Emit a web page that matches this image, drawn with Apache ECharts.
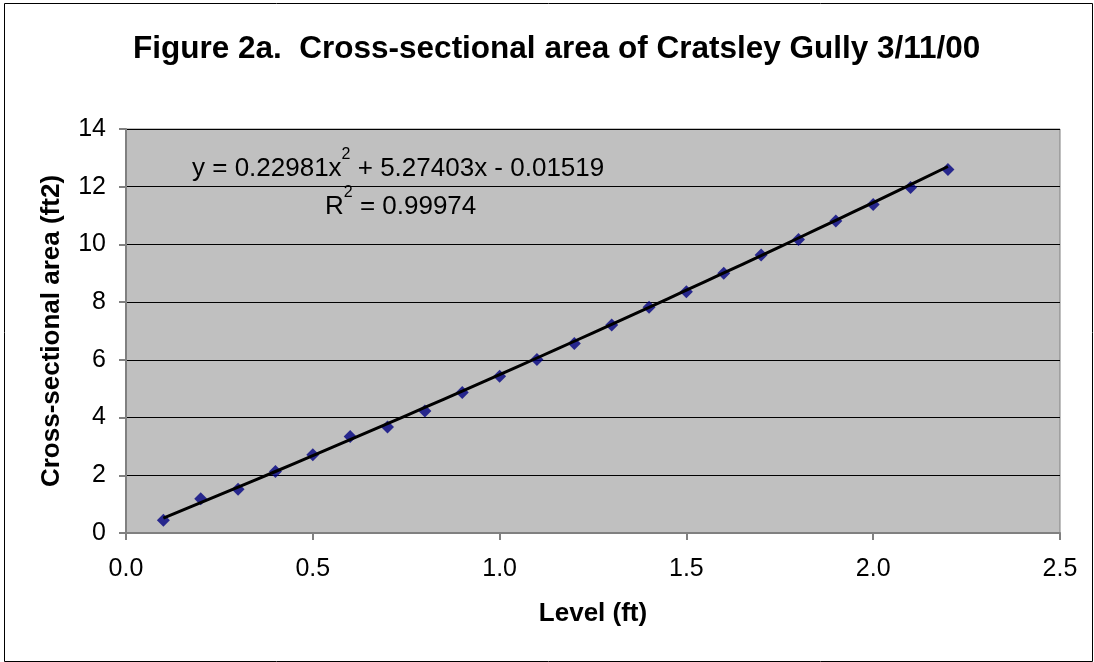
<!DOCTYPE html>
<html>
<head>
<meta charset="utf-8">
<script src="https://cdn.jsdelivr.net/npm/echarts@6/dist/echarts.min.js"></script>
<style>
  html, body { margin: 0; padding: 0; background: #fff; }
  #chart { width: 1094px; height: 662px; }
</style>
</head>
<body>
<div id="chart"></div>
<script>
// data
const levels = [0.1, 0.2, 0.3, 0.4, 0.5, 0.6, 0.7, 0.8, 0.9, 1.0, 1.1,
                1.2, 1.3, 1.4, 1.5, 1.6, 1.7, 1.8, 1.9, 2.0, 2.1, 2.2]
const areas = [0.44, 1.19, 1.52, 2.13, 2.71, 3.34, 3.67, 4.23, 4.87, 5.43, 6.01,
               6.57, 7.21, 7.82, 8.36, 9.00, 9.63, 10.17, 10.81, 11.38, 11.97, 12.60]
// polynomial trendline as printed on the chart: a*x^2 + b*x + c
const trendCoef = [0.22981, 5.27403, -0.01519]
const xTicks = [0.0, 0.5, 1.0, 1.5, 2.0, 2.5]
const yTicks = [0, 2, 4, 6, 8, 10, 12, 14]

const font = '"Liberation Sans", Arial, sans-serif'

const points = levels.map((x, i) => [x, areas[i]])
const trend = levels.map(x => [x, trendCoef[0] * x * x + trendCoef[1] * x + trendCoef[2]])

// rich styles for the equation text, superscript raised with bottom padding
const eqRich = {
  t: {fontFamily: font, fontSize: 26, color: '#000'},
  s: {fontFamily: font, fontSize: 16, color: '#000', padding: [0, 0, 28, 0]}
}

const chart = echarts.init(document.getElementById('chart'))
chart.setOption({
  animation: false,
  backgroundColor: '#fff',
  title: {
    text: 'Figure 2a.  Cross-sectional area of Cratsley Gully 3/11/00',
    left: 128,
    top: 28,
    textStyle: {fontFamily: font, fontSize: 31.5, fontWeight: 'bold', color: '#000'}
  },
  grid: {
    left: 126,
    right: 34,
    top: 129,
    bottom: 129,
    show: true,
    backgroundColor: '#c0c0c0',
    borderColor: '#808080',
    borderWidth: 1
  },
  xAxis: {
    type: 'value',
    min: xTicks[0],
    max: xTicks[xTicks.length - 1],
    interval: 0.5,
    name: 'Level (ft)',
    nameLocation: 'middle',
    nameGap: 68,
    nameTextStyle: {fontFamily: font, fontSize: 26, fontWeight: 'bold', color: '#000'},
    axisLine: {lineStyle: {color: '#808080', width: 2}},
    axisTick: {lineStyle: {color: '#808080', width: 2}, length: 7},
    axisLabel: {
      fontFamily: font, fontSize: 25, color: '#000', margin: 24,
      formatter: v => v.toFixed(1)
    },
    splitLine: {show: false}
  },
  yAxis: {
    type: 'value',
    min: yTicks[0],
    max: yTicks[yTicks.length - 1],
    interval: 2,
    name: 'Cross-sectional area (ft2)',
    nameLocation: 'middle',
    nameGap: 61,
    nameTextStyle: {fontFamily: font, fontSize: 26, fontWeight: 'bold', color: '#000'},
    axisLine: {show: true, lineStyle: {color: '#808080', width: 2}},
    axisTick: {show: true, lineStyle: {color: '#808080', width: 2}, length: 7},
    axisLabel: {fontFamily: font, fontSize: 25, color: '#000', margin: 20},
    splitLine: {lineStyle: {color: '#000', width: 1}}
  },
  series: [
    {
      name: 'Area',
      type: 'scatter',
      data: points,
      symbol: 'diamond',
      symbolSize: 13,
      itemStyle: {color: '#000080'},
      z: 2
    },
    {
      name: 'Poly. (Area)',
      type: 'line',
      data: trend,
      showSymbol: false,
      smooth: true,
      lineStyle: {color: '#000', width: 3},
      z: 3
    }
  ],
  graphic: [
    {
      type: 'rect',
      left: 2, top: 1,
      shape: {width: 1088, height: 658},
      style: {fill: 'none', stroke: '#000', lineWidth: 1},
      silent: true
    },
    {
      type: 'text',
      left: 192, top: 147,
      style: {
        text: '{t|y = 0.22981x}{s|2}{t| + 5.27403x - 0.01519}',
        rich: eqRich
      }
    },
    {
      type: 'text',
      left: 325, top: 185,
      style: {
        text: '{t|R}{s|2}{t| = 0.99974}',
        rich: eqRich
      }
    }
  ]
})
</script>
</body>
</html>
